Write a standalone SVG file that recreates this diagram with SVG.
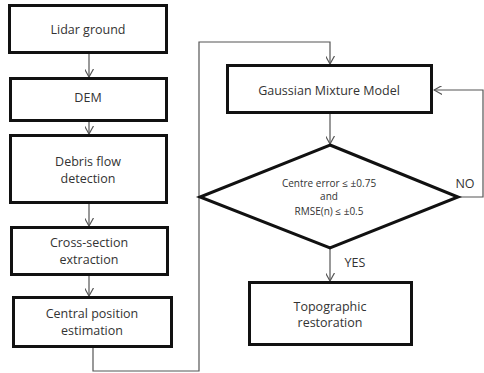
<svg xmlns="http://www.w3.org/2000/svg" width="484" height="373" viewBox="0 0 484 373">
<defs>
<marker id="arr" viewBox="0 0 10 10" refX="9" refY="5" markerWidth="9" markerHeight="9" markerUnits="userSpaceOnUse" orient="auto">
<path d="M0,0 L9,5 L0,10" fill="none" stroke="#555" stroke-width="1.3"/>
</marker>
<style>
.box{fill:#fff;stroke:#111;stroke-width:3}
.t{font-family:"Open Sans","Noto Sans",sans-serif;font-size:12.5px;fill:#333;text-anchor:middle}
.s{font-family:"Open Sans","Noto Sans",sans-serif;font-size:10px;fill:#333;text-anchor:middle}
.c{fill:none;stroke:#555;stroke-width:1.2}
</style>
</defs>
<rect width="484" height="373" fill="#fff"/>
<g id="connectors">
<line class="c" x1="89" y1="53" x2="89" y2="77" marker-end="url(#arr)"/>
<line class="c" x1="89" y1="121" x2="89" y2="134" marker-end="url(#arr)"/>
<line class="c" x1="89" y1="203" x2="89" y2="226" marker-end="url(#arr)"/>
<line class="c" x1="89" y1="275" x2="89" y2="296" marker-end="url(#arr)"/>
<polyline class="c" points="93,347 93,371 199,371 199,42 330,42 330,64" marker-end="url(#arr)"/>
<line class="c" x1="330" y1="113" x2="330" y2="144" marker-end="url(#arr)"/>
<line class="c" x1="330" y1="248" x2="330" y2="281" marker-end="url(#arr)"/>
<polyline class="c" points="458,197 483,197 483,90 434,90" marker-end="url(#arr)"/>
</g>
<g id="lidar"><rect class="box" x="9.5" y="5.5" width="157" height="47"/><text class="t" x="88" y="34">Lidar ground</text></g>
<g id="dem"><rect class="box" x="10.5" y="78.5" width="156" height="42"/><text class="t" x="88" y="101.5">DEM</text></g>
<g id="debris"><rect class="box" x="10.5" y="135.5" width="156" height="67"/><text class="t" x="88" y="166">Debris flow</text><text class="t" x="88" y="183">detection</text></g>
<g id="cross"><rect class="box" x="11.5" y="227.5" width="156" height="47"/><text class="t" x="89" y="246.5">Cross-section</text><text class="t" x="89" y="263.5">extraction</text></g>
<g id="central"><rect class="box" x="13.5" y="297.5" width="158" height="49"/><text class="t" x="92" y="317.5">Central position</text><text class="t" x="92" y="334.5">estimation</text></g>
<g id="gmm"><rect class="box" x="227.5" y="65.5" width="204" height="47"/><text class="t" x="329" y="94.5">Gaussian Mixture Model</text></g>
<g id="decision"><polygon points="330,145 458,197 330,248 200,197" fill="#fff" stroke="#111" stroke-width="3" stroke-linejoin="miter"/>
<text class="s" x="329" y="187">Centre error ≤ ±0.75</text>
<text class="s" x="329" y="200">and</text>
<text class="s" x="329" y="215">RMSE(n) ≤  ±0.5</text></g>
<g id="topo"><rect class="box" x="249.5" y="282.5" width="162" height="62"/><text class="t" x="330" y="310.5">Topographic</text><text class="t" x="330" y="326.5">restoration</text></g>
<text class="t" x="465" y="188">NO</text>
<text class="t" x="355" y="267">YES</text>
</svg>
